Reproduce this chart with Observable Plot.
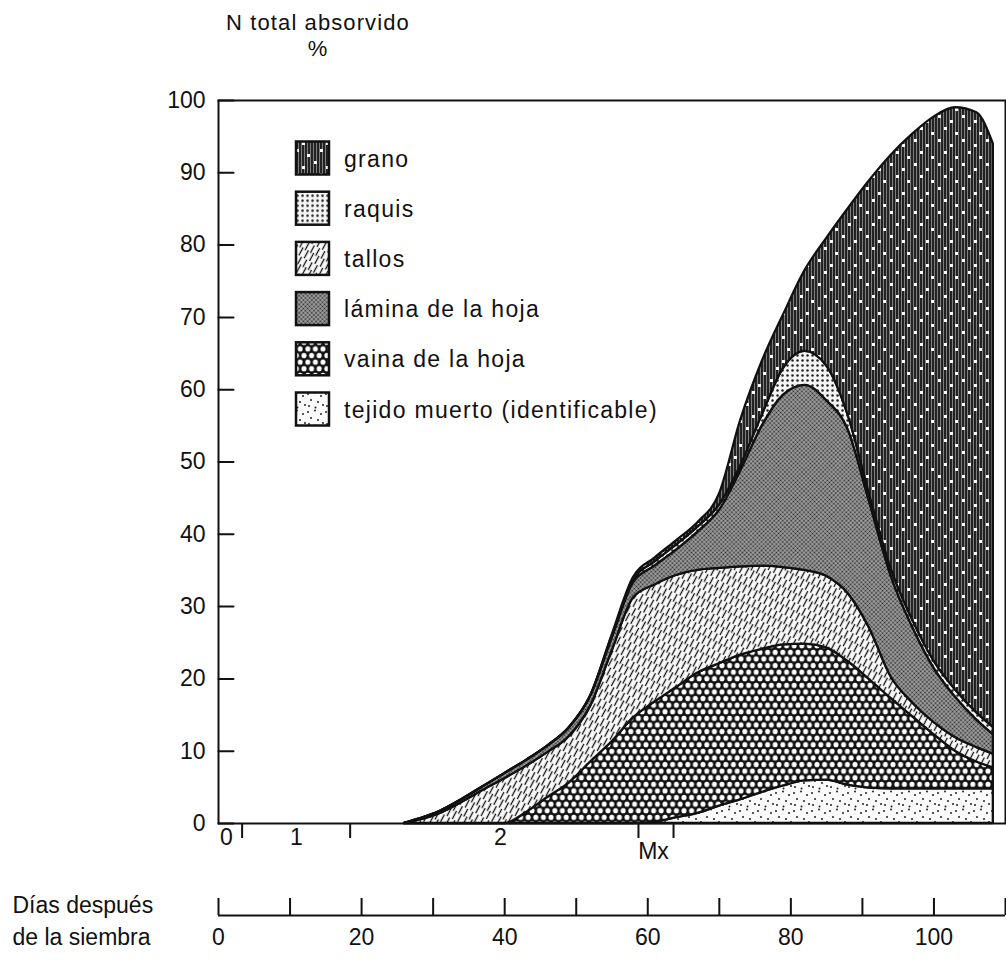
<!DOCTYPE html>
<html>
<head>
<meta charset="utf-8">
<script src="https://cdn.jsdelivr.net/npm/d3@7"></script>
<script src="https://cdn.jsdelivr.net/npm/@observablehq/plot@0.6"></script>
<style>
  body { margin: 0; background: #fff; font-family: "Liberation Sans", Arial, sans-serif; color: #111; }
  #wrap { position: relative; width: 1006px; height: 962px; overflow: hidden; }
  #title { position: relative; height: 88px; }
  #title .t { position: absolute; left: 218px; width: 200px; top: 10px; text-align: center; white-space: nowrap;
              font-size: 22px; line-height: 25.5px; letter-spacing: 1.1px; }
  #legend { position: absolute; left: 0; top: 0; pointer-events: none; }
  svg { display: block; }
</style>
</head>
<body>
<svg width="0" height="0" style="position:absolute">
  <defs>
    <pattern id="p-grano" width="24" height="24" patternUnits="userSpaceOnUse">
      <rect width="24" height="24" fill="#222"/>
      <path d="M1.5 0V24M4.5 0V24M7.5 0V24M10.5 0V24M13.5 0V24M16.5 0V24M19.5 0V24M22.5 0V24" stroke="#7e7e7e" stroke-width="1"/>
      <rect x="2" y="3" width="3" height="3" fill="#fff"/>
      <rect x="14" y="8" width="3" height="3" fill="#fff"/>
      <rect x="8" y="15" width="3" height="3" fill="#fff"/>
      <rect x="19" y="20" width="3" height="3" fill="#fff"/>
    </pattern>
    <pattern id="p-raquis" width="5" height="5" patternUnits="userSpaceOnUse">
      <rect width="5" height="5" fill="#f4f4f4"/>
      <circle cx="2.5" cy="2.5" r="1.25" fill="#222"/>
    </pattern>
    <pattern id="p-tallos" width="6" height="16" patternUnits="userSpaceOnUse" patternTransform="rotate(28)">
      <rect width="6" height="16" fill="#fbfbfb"/>
      <path d="M1.5 1V9.5M4.5 8V16.5M4.5 -0.5V1" stroke="#111" stroke-width="1.3"/>
    </pattern>
    <pattern id="p-lamina" width="3" height="3" patternUnits="userSpaceOnUse" patternTransform="rotate(45)">
      <rect width="3" height="3" fill="#a4a4a4"/>
      <circle cx="1.5" cy="1.5" r="1.0" fill="#2a2a2a"/>
    </pattern>
    <pattern id="p-vaina" width="7.6" height="13.2" patternUnits="userSpaceOnUse">
      <rect width="7.6" height="13.2" fill="#111"/>
      <ellipse cx="3.8" cy="3.3" rx="2.5" ry="2.7" fill="#fff"/>
      <ellipse cx="0" cy="9.9" rx="2.5" ry="2.7" fill="#fff"/>
      <ellipse cx="7.6" cy="9.9" rx="2.5" ry="2.7" fill="#fff"/>
    </pattern>
    <pattern id="p-tejido" width="18" height="18" patternUnits="userSpaceOnUse">
      <rect width="18" height="18" fill="#fafafa"/>
      <g fill="#222">
        <circle cx="2" cy="3" r="1"/><circle cx="9" cy="1.5" r="1"/><circle cx="15" cy="5" r="1"/>
        <circle cx="5" cy="9" r="1"/><circle cx="12" cy="11" r="1"/><circle cx="17" cy="14" r="1"/>
        <circle cx="3" cy="15" r="1"/><circle cx="9.5" cy="16.5" r="1"/>
      </g>
    </pattern>
  </defs>
</svg>
<div id="wrap">
  <div id="title"><div class="t">N total absorvido<br>%</div></div>
  <div id="chart"></div>
  <div id="days"></div>
</div>
<script>
// ---- data ----
const days   = [26, 28, 31, 34, 37, 40, 43, 46, 49, 52, 55, 58, 61, 64, 67, 70, 73, 76, 79, 82, 85, 88, 91, 94, 97, 100, 103, 106, 108.3];
const tejido = [0,0,0,0,0,0,0,0,0,0,0,0, 0.2,0.8,1.4,2.4,3.3,4.3,5.2,5.9,6.0,5.3,4.9,4.8,4.8,4.8,4.8,4.8,4.8];
const vaina  = [0,0,0,0,0,0, 1.5,3.6,5.6,8.5,11.3,14.6,16.6,18.0,19.4,19.7,20.0,19.8,19.5,18.9,18.3,17.1,15.0,12.5,10.0,7.5,5.2,3.7,2.9];
const tallos = [0,0.45,1.4,2.9,4.6,6.2, 6.4,6.2,6.4,7.7,12.5,16.6, 16.2,15.5,14.2,13.2,12.2,11.5,10.7,10.2,9.9,9.4, 7.1,3.0,1.9,1.7,1.9,2.0,1.9];
const lamina = [0,0.15,0.3,0.4,0.5,0.7, 0.8,0.9,1.2,1.4,1.8,2.1, 2.6,3.5,5.3,8.0,13.3,19.4,23.9,25.6,24.3,22.7, 17.5,14.0,10.5,7.5,5.6,3.8,2.7];
const raquis = [0,0,0,0,0,0,0,0,0,0, 0.2,0.3, 0.6,0.7,0.7,0.7,0.7,1.5,3.7,4.7,4.8,2.0, 1.0,1.0,1.0,1.0,1.0,1.0,1.0];
const grano  = [0,0,0,0,0,0,0,0,0,0, 0.2,0.4, 0.5,0.6,0.6,1.5,6.3,7.4,7.4,11.2,17.6,28.5, 43.4,57.1,67.1,75.2,80.5,83.0,80.7];

// stacking order, bottom to top
const layerNames = ["tejido muerto (identificable)", "vaina de la hoja", "tallos", "lámina de la hoja", "raquis", "grano"];
const layerValues = [tejido, vaina, tallos, lamina, raquis, grano];
const layerPatterns = ["url(#p-tejido)", "url(#p-vaina)", "url(#p-tallos)", "url(#p-lamina)", "url(#p-raquis)", "url(#p-grano)"];
// legend order as printed
const legendOrder = ["grano", "raquis", "tallos", "lámina de la hoja", "vaina de la hoja", "tejido muerto (identificable)"];

const yTicks = [0, 10, 20, 30, 40, 50, 60, 70, 80, 90, 100];
const dayTicks = [0, 10, 20, 30, 40, 50, 60, 70, 80, 90, 100, 110];
const dayLabels = [0, 20, 40, 60, 80, 100];
const stageTicks = [3.3, 18.4, 58.7, 63.6];
const stageLabels = ["0", "1", "2", "Mx"];
const stageLabelDays = [1.1, 10.9, 39.4, 60.8];

const rows = layerNames.flatMap((name, k) => days.map((day, i) => ({day, layer: name, value: layerValues[k][i]})));
const stageRows = stageLabels.map((label, i) => ({label, day: stageLabelDays[i]}));

const font = '"Liberation Sans", Arial, sans-serif';
const baseStyle = {fontSize: "23px", fontFamily: font, color: "#111", background: "transparent", overflow: "visible"};
const tickShape = {draw(context, l) { context.moveTo(0, 0); context.lineTo(0, -l); }};

const chart = Plot.plot({
  width: 1006, height: 792,
  marginTop: 12, marginBottom: 57, marginLeft: 218, marginRight: 1,
  style: baseStyle,
  x: {domain: [0, 110], label: null},
  y: {domain: [0, 100], label: null},
  color: {domain: layerNames, range: layerPatterns},
  marks: [
    Plot.areaY(rows, {x: "day", y: "value", z: "layer", fill: "layer", order: layerNames,
      curve: "monotone-x", stroke: "#111", strokeWidth: 2.3, strokeLinejoin: "round"}),
    Plot.frame({stroke: "#111", strokeWidth: 2}),
    // y ticks pointing inward from the left frame
    Plot.vector(yTicks, {y: d => d, frameAnchor: "left", length: 15, rotate: 90, anchor: "start",
      shape: tickShape, stroke: "#111", strokeWidth: 2}),
    Plot.axisY({ticks: yTicks, tickSize: 0, tickPadding: 13, label: null}),
    Plot.axisX({ticks: stageTicks, tickSize: 15, tickFormat: () => "", strokeWidth: 2, label: null}),
    Plot.text(stageRows.filter(d => d.label !== "Mx"), {x: "day", text: "label", frameAnchor: "bottom", dy: 21}),
    Plot.text(stageRows.filter(d => d.label === "Mx"), {x: "day", text: "label", frameAnchor: "bottom", dy: 35})
  ]
});
document.getElementById("chart").appendChild(chart);

const dayAxis = Plot.plot({
  width: 1006, height: 82,
  marginTop: 18, marginBottom: 47, marginLeft: 218, marginRight: 1,
  style: baseStyle,
  x: {domain: [0, 110], label: null},
  y: {domain: [0, 1], axis: null},
  marks: [
    Plot.ruleX(dayTicks, {stroke: "#111", strokeWidth: 2}),
    Plot.ruleY([0], {stroke: "#111", strokeWidth: 2}),
    Plot.axisX({ticks: dayLabels, tickSize: 0, tickPadding: 13, tickFormat: d => d, label: null}),
    Plot.text(["Días después\nde la siembra"], {frameAnchor: "left", dx: -206, dy: 11.5, textAnchor: "start", lineHeight: 1.39})
  ]
});
document.getElementById("days").appendChild(dayAxis);

// legend
const legend = d3.select("#wrap").append("svg").attr("id", "legend").attr("width", 1006).attr("height", 480)
  .style("font-family", font).style("font-size", "23px").style("letter-spacing", "1.3px");
const items = legendOrder.map(n => ({name: n, fill: layerPatterns[layerNames.indexOf(n)]}));
const g = legend.selectAll("g").data(items).join("g")
  .attr("transform", (d, i) => `translate(0, ${158 + 50.2 * i})`);
g.append("rect").attr("x", 296).attr("y", -16.5).attr("width", 33).attr("height", 33)
  .attr("fill", d => d.fill).attr("stroke", "#111").attr("stroke-width", 2.5);
g.append("text").attr("x", 344).attr("y", 8.5).attr("fill", "#111").text(d => d.name);
</script>
</body>
</html>
